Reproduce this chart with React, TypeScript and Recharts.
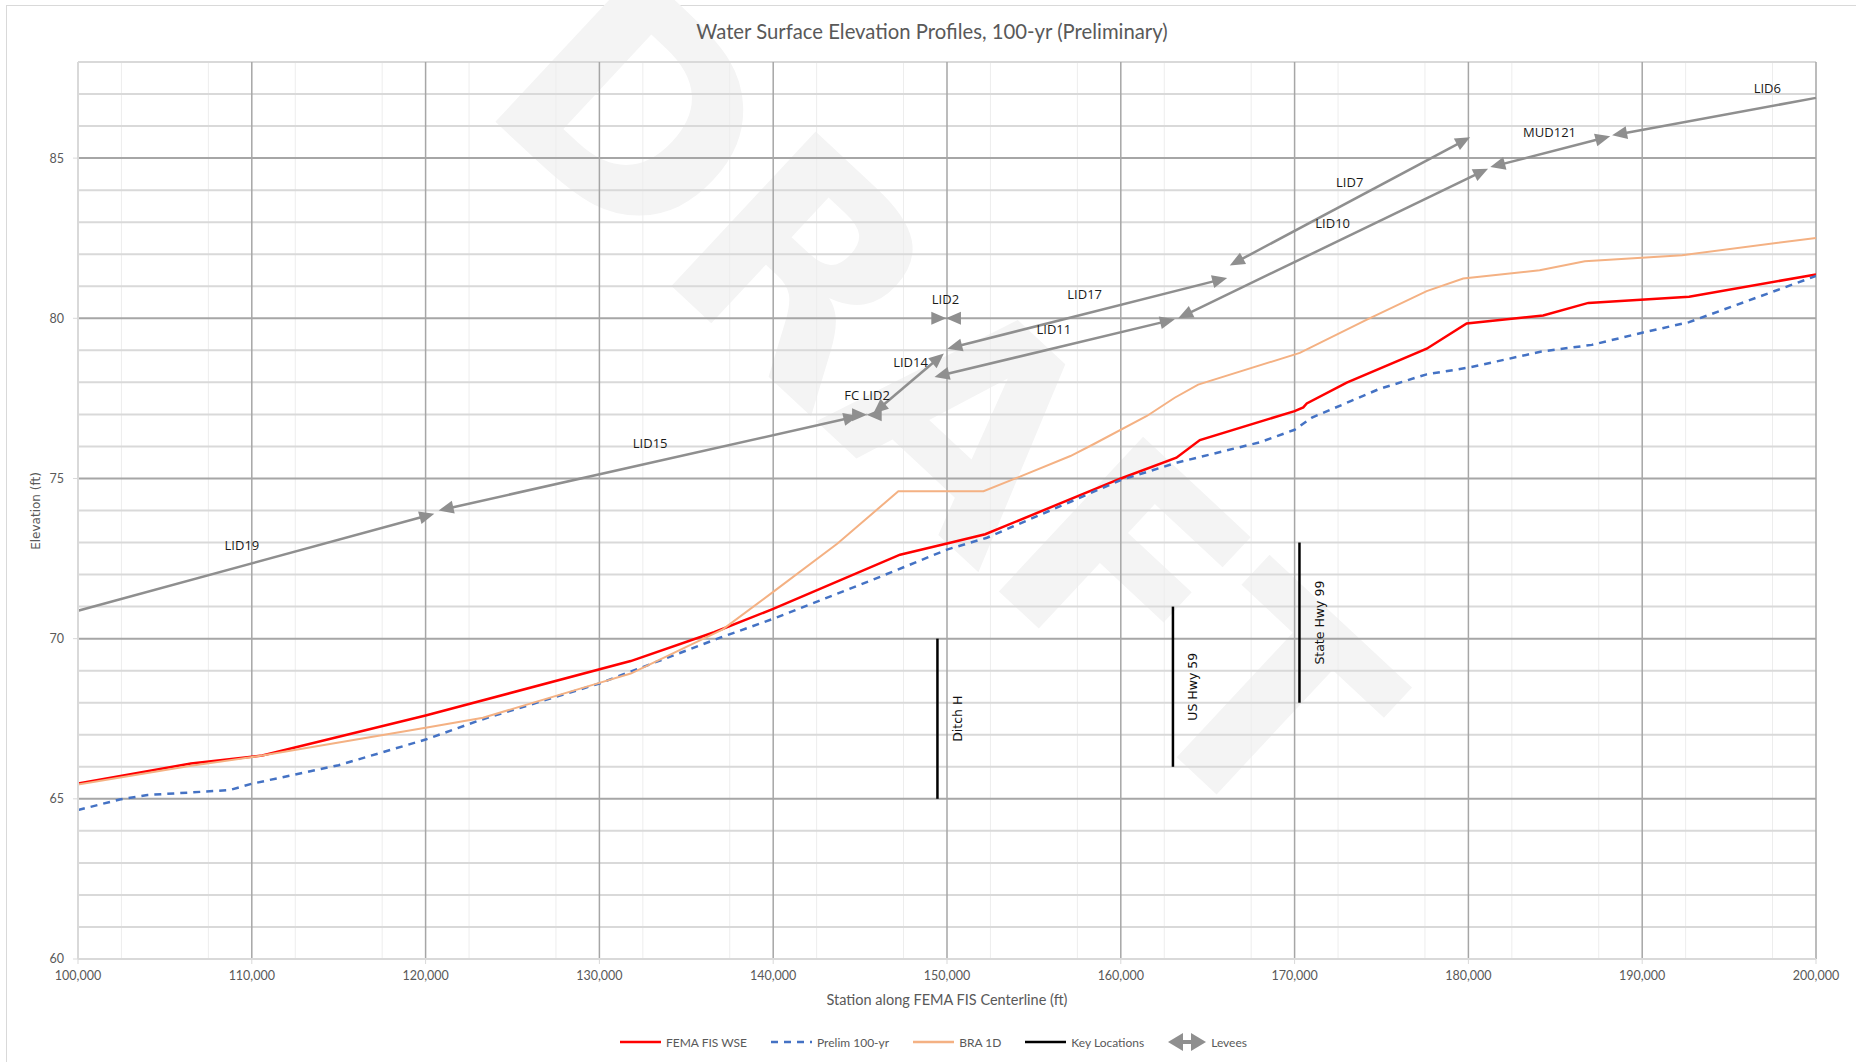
import React from 'react';
import {
  LineChart, Line, XAxis, YAxis, CartesianGrid, ReferenceLine, ReferenceDot
} from 'recharts';

// Effective FEMA FIS water surface (ft) by station (ft)
const femaStation = [100000, 106500, 110600, 120000, 131800, 136600, 140000, 147300, 150000, 152200, 160000, 163200, 164550, 170000, 170500, 170700, 173000, 177600, 179900, 184300, 186900, 192700, 200000];
const femaWse = [65.48, 66.1, 66.35, 67.6, 69.3, 70.2, 70.93, 72.62, 72.97, 73.26, 75.0, 75.65, 76.2, 77.1, 77.22, 77.34, 77.99, 79.05, 79.84, 80.09, 80.48, 80.67, 81.37];

// Preliminary 100-yr profile
const prelimStation = [100000, 102400, 104000, 108700, 110000, 115000, 120000, 123150, 130000, 136950, 140000, 146150, 150000, 152300, 160000, 163200, 168000, 170000, 171000, 174900, 177600, 180000, 184200, 187100, 190000, 192700, 200000];
const prelimWse = [64.65, 64.98, 65.12, 65.27, 65.47, 66.05, 66.85, 67.46, 68.6, 70.03, 70.62, 71.93, 72.78, 73.15, 74.95, 75.49, 76.13, 76.52, 76.9, 77.8, 78.25, 78.46, 78.96, 79.17, 79.55, 79.88, 81.32];

// BRA 1D model
const braStation = [100000, 106500, 110600, 120000, 123300, 130000, 131800, 137100, 140000, 143700, 147200, 152100, 153800, 157100, 158400, 161500, 163100, 164450, 170300, 174100, 177600, 179700, 184100, 186700, 192300, 200000];
const braWse = [65.45, 66.03, 66.35, 67.22, 67.53, 68.62, 68.91, 70.29, 71.46, 72.97, 74.6, 74.6, 74.97, 75.7, 76.06, 76.95, 77.52, 77.93, 78.92, 79.94, 80.85, 81.24, 81.5, 81.78, 81.97, 82.51];

const keyLocations = [
  { name: 'Ditch H', station: 149450, low: 65, high: 70 },
  { name: 'US Hwy 59', station: 163000, low: 66, high: 71 },
  { name: 'State Hwy 99', station: 170280, low: 68, high: 73 },
];

// levee crest segments, heads = which ends carry an arrowhead
const levees = [
  { name: 'LID19', x1: 100000, y1: 70.87, x2: 120500, y2: 73.9, heads: 'end' },
  { name: 'LID15', x1: 120750, y1: 74.0, x2: 144900, y2: 76.95, heads: 'both' },
  { name: 'FC LID2', x1: 145380, y1: 76.99, x2: 145400, y2: 76.99, heads: 'both' },
  { name: 'LID14', x1: 145760, y1: 77.03, x2: 149820, y2: 78.9, heads: 'both' },
  { name: 'LID2', x1: 149940, y1: 80.0, x2: 149960, y2: 80.0, heads: 'both' },
  { name: 'LID17', x1: 150020, y1: 79.05, x2: 166120, y2: 81.26, heads: 'both' },
  { name: 'LID11', x1: 149280, y1: 78.17, x2: 163110, y2: 79.97, heads: 'both' },
  { name: 'LID10', x1: 163300, y1: 80.0, x2: 181130, y2: 84.67, heads: 'both' },
  { name: 'LID7', x1: 166270, y1: 81.65, x2: 180100, y2: 85.65, heads: 'both' },
  { name: 'MUD121', x1: 181260, y1: 84.72, x2: 188160, y2: 85.68, heads: 'both' },
  { name: 'LID6', x1: 188270, y1: 85.71, x2: 200000, y2: 86.88, heads: 'start' },
];

const leveeLabels = [
  { name: 'LID19', x: 109430, y: 72.92 },
  { name: 'LID15', x: 132920, y: 76.11 },
  { name: 'FC LID2', x: 145400, y: 77.61 },
  { name: 'LID14', x: 147900, y: 78.62 },
  { name: 'LID2', x: 149910, y: 80.61 },
  { name: 'LID17', x: 157920, y: 80.77 },
  { name: 'LID11', x: 156150, y: 79.65 },
  { name: 'LID7', x: 173170, y: 84.26 },
  { name: 'LID10', x: 172190, y: 82.96 },
  { name: 'MUD121', x: 184670, y: 85.81 },
  { name: 'LID6', x: 197200, y: 87.19 },
];

const xTicks = [100000, 110000, 120000, 130000, 140000, 150000, 160000, 170000, 180000, 190000, 200000];
const yTicks = [60, 65, 70, 75, 80, 85];

const X_MIN = 100000, X_MAX = 200000, Y_MIN = 60, Y_MAX = 88;

const toPoints = (xs: number[], ys: number[]) => xs.map((x, i) => ({ x, y: ys[i] }));
const femaData = toPoints(femaStation, femaWse);
const prelimData = toPoints(prelimStation, prelimWse);
const braData = toPoints(braStation, braWse);

// grid positions
const minorX = Array.from({ length: 41 }, (_, i) => X_MIN + i * 2500).filter(v => v % 10000 !== 0);
const majorX = xTicks.filter(v => v !== X_MIN);
const minorY = Array.from({ length: 29 }, (_, i) => Y_MIN + i).filter(v => v % 5 !== 0);
const majorY = yTicks.filter(v => v !== Y_MIN);

const LEVEE = '#8f8f8f';
const AXIS_TEXT = '#595959';

function arrowHead(tx: number, ty: number, ux: number, uy: number, key: string) {
  const L = 15, W = 13;
  const bx = tx - ux * L, by = ty - uy * L;
  const px = -uy * W / 2, py = ux * W / 2;
  return (
    <polygon key={key} points={`${tx},${ty} ${bx + px},${by + py} ${bx - px},${by - py}`} fill={LEVEE} />
  );
}

const leveeShape = (heads: string) => (p: any) => {
  const { x1, y1, x2, y2 } = p;
  const dx = x2 - x1, dy = y2 - y1;
  const len = Math.hypot(dx, dy) || 1;
  const ux = dx / len, uy = dy / len;
  const hasStart = heads !== 'end';
  const hasEnd = heads !== 'start';
  const trim = len > 30 ? 8 : 0;
  return (
    <g>
      <line
        x1={x1 + (hasStart ? ux * trim : 0)} y1={y1 + (hasStart ? uy * trim : 0)}
        x2={x2 - (hasEnd ? ux * trim : 0)} y2={y2 - (hasEnd ? uy * trim : 0)}
        stroke={LEVEE} strokeWidth={2.5}
      />
      {hasStart && arrowHead(x1, y1, -ux, -uy, 's')}
      {hasEnd && arrowHead(x2, y2, ux, uy, 'e')}
    </g>
  );
};

const keyShape = (name: string) => (p: any) => {
  const { x1, y1, x2, y2 } = p;
  const tx = x1 + 20;
  const ty = (y1 + y2) / 2;
  return (
    <g>
      <line x1={x1} y1={y1} x2={x2} y2={y2} stroke="#000" strokeWidth={2.5} />
      <text
        x={tx} y={ty} transform={`rotate(-90 ${tx} ${ty})`}
        textAnchor="middle" dominantBaseline="central"
        fontFamily="DejaVu Sans" fontSize={12.5} fill="#111"
      >{name}</text>
    </g>
  );
};

const labelShape = (name: string) => (p: any) => (
  <text
    x={p.cx} y={p.cy} textAnchor="middle" dominantBaseline="central"
    fontFamily="'Open Sans'" fontSize={13} fill="#1a1a1a"
  >{name}</text>
);

const legendItems = [
  { name: 'FEMA FIS WSE', kind: 'line', color: '#ff0000', dash: undefined },
  { name: 'Prelim 100-yr', kind: 'line', color: '#4472c4', dash: '7 6' },
  { name: 'BRA 1D', kind: 'line', color: '#f4b183', dash: undefined },
  { name: 'Key Locations', kind: 'line', color: '#000000', dash: undefined },
  { name: 'Levees', kind: 'arrow', color: LEVEE, dash: undefined },
];

function LegendIcon({ item }: { item: typeof legendItems[number] }) {
  if (item.kind === 'arrow') {
    return (
      <svg width={38} height={20} style={{ display: 'block' }}>
        <line x1={12} y1={10} x2={26} y2={10} stroke={item.color} strokeWidth={4} />
        <polygon points="0,10 15,1 15,19" fill={item.color} />
        <polygon points="38,10 23,1 23,19" fill={item.color} />
      </svg>
    );
  }
  return (
    <svg width={41} height={20} style={{ display: 'block' }}>
      <line x1={0} y1={10} x2={41} y2={10} stroke={item.color} strokeWidth={2.5} strokeDasharray={item.dash} />
    </svg>
  );
}

export default function App() {
  return (
    <div style={{ position: 'fixed', left: 0, top: 0, width: 1856, height: 1062, overflow: 'hidden', background: '#fff' }}>
      <div style={{ position: 'absolute', left: 6, top: 5, width: 1870, height: 1080, border: '1px solid #d9d9d9' }} />

      {/* watermark */}
      <svg width={1856} height={1062} style={{ position: 'absolute', left: 0, top: 0 }}>
        <text
          x={941} y={400} transform="rotate(43 941 400)"
          textAnchor="middle" dominantBaseline="central"
          fontFamily="'DejaVu Sans'" fontWeight="bold" fontSize={290} fill="#f4f4f4"
        >DRAFT</text>
      </svg>

      <div style={{
        position: 'absolute', left: 0, width: 1864, top: 18, textAlign: 'center',
        fontFamily: 'Lato', fontSize: 20.3, color: AXIS_TEXT, lineHeight: '26px'
      }}>
        Water Surface Elevation Profiles, 100-yr (Preliminary)
      </div>

      <div style={{ position: 'absolute', left: 0, top: 0 }}>
        <LineChart width={1856} height={1062} margin={{ top: 62, right: 40, bottom: 43, left: 28 }}>
          <CartesianGrid horizontal={false} verticalValues={minorX} stroke="#ededed" strokeWidth={1} />
          <CartesianGrid vertical={false} horizontalValues={minorY} stroke="#d9d9d9" strokeWidth={2} />
          <CartesianGrid horizontal={false} verticalValues={majorX} stroke="#a6a6a6" strokeWidth={1.5} />
          <CartesianGrid vertical={false} horizontalValues={majorY} stroke="#a6a6a6" strokeWidth={2} />
          <XAxis
            type="number" dataKey="x" domain={[X_MIN, X_MAX]} ticks={xTicks} height={60}
            allowDataOverflow
            tickFormatter={(v: number) => v.toLocaleString('en-US')}
            tick={{ fontFamily: 'Lato', fontSize: 12.5, fill: AXIS_TEXT }}
            axisLine={{ stroke: '#d9d9d9', strokeWidth: 2 }}
            tickLine={{ stroke: '#d9d9d9' }} tickSize={5} tickMargin={7}
          />
          <YAxis
            type="number" domain={[Y_MIN, Y_MAX]} ticks={yTicks} width={50}
            allowDataOverflow
            tick={{ fontFamily: 'Lato', fontSize: 12.5, fill: AXIS_TEXT }}
            axisLine={{ stroke: '#d9d9d9', strokeWidth: 2 }}
            tickLine={{ stroke: '#d9d9d9' }} tickSize={5} tickMargin={9}
          />

          <Line data={femaData} dataKey="y" type="linear" stroke="#ff0000" strokeWidth={2.5} dot={false} isAnimationActive={false} />
          <Line data={prelimData} dataKey="y" type="linear" stroke="#4472c4" strokeWidth={2.5} strokeDasharray="7 6" dot={false} isAnimationActive={false} />
          <Line data={braData} dataKey="y" type="linear" stroke="#f4b183" strokeWidth={2} dot={false} isAnimationActive={false} />

          {keyLocations.map(k => (
            <ReferenceLine
              key={k.name}
              segment={[{ x: k.station, y: k.low }, { x: k.station, y: k.high }]}
              ifOverflow="visible"
              shape={keyShape(k.name)}
            />
          ))}

          {levees.map(l => (
            <ReferenceLine
              key={l.name}
              segment={[{ x: l.x1, y: l.y1 }, { x: l.x2, y: l.y2 }]}
              ifOverflow="visible"
              shape={leveeShape(l.heads)}
            />
          ))}

          {leveeLabels.map(lb => (
            <ReferenceDot key={lb.name} x={lb.x} y={lb.y} r={1} ifOverflow="visible" shape={labelShape(lb.name)} />
          ))}
        </LineChart>
      </div>

      {/* axis titles */}
      <div style={{
        position: 'absolute', left: 0, width: 1894, top: 990, textAlign: 'center',
        fontFamily: 'Lato', fontSize: 14.5, color: AXIS_TEXT, lineHeight: '20px'
      }}>
        Station along FEMA FIS Centerline (ft)
      </div>
      <div style={{
        position: 'absolute', left: 35.5, top: 511, transform: 'translate(-50%, -50%) rotate(-90deg)',
        fontFamily: 'DejaVu Sans', fontSize: 12, color: AXIS_TEXT, whiteSpace: 'nowrap'
      }}>
        Elevation (ft)
      </div>

      {/* legend */}
      <div style={{
        position: 'absolute', left: 0, width: 1867, top: 1032, display: 'flex', justifyContent: 'center',
        alignItems: 'center', gap: 24, fontFamily: 'Lato', fontSize: 12, color: AXIS_TEXT
      }}>
        {legendItems.map(it => (
          <div key={it.name} style={{ display: 'flex', alignItems: 'center', gap: 5 }}>
            <LegendIcon item={it} />
            <span>{it.name}</span>
          </div>
        ))}
      </div>
    </div>
  );
}
